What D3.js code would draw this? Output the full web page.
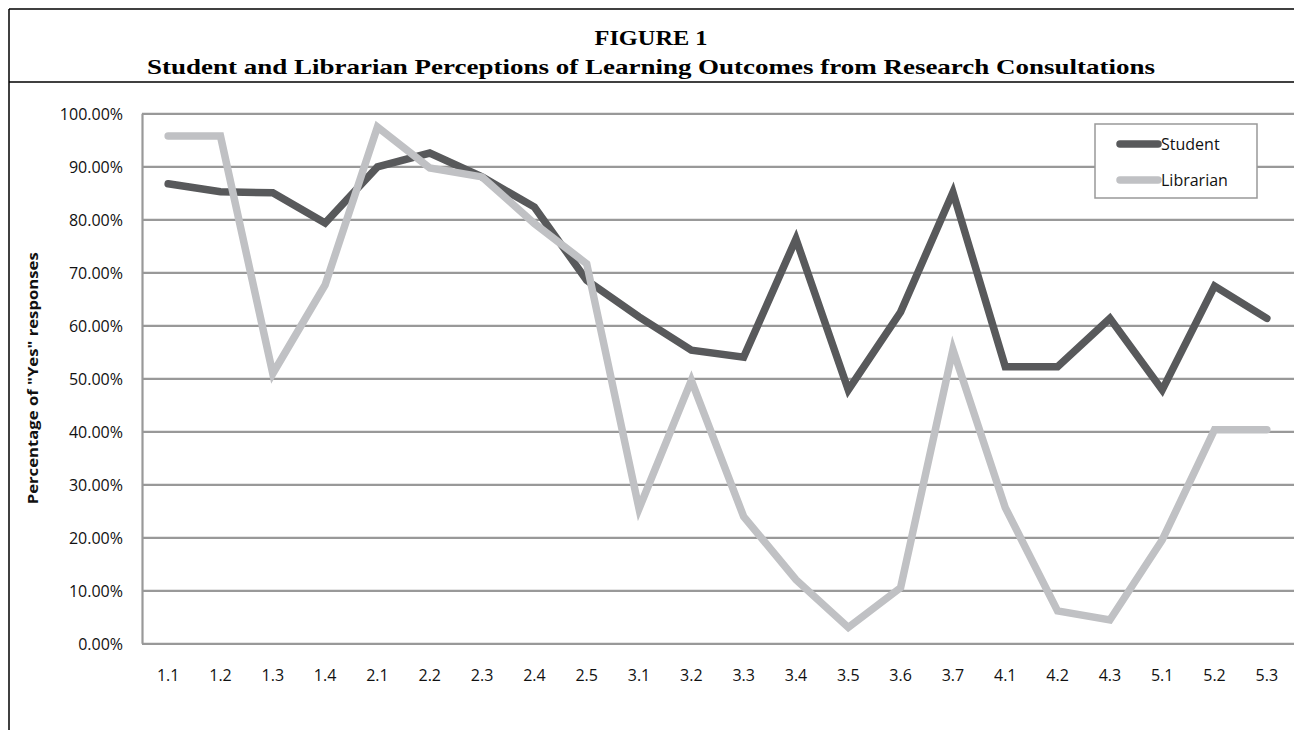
<!DOCTYPE html>
<html>
<head>
<meta charset="utf-8">
<script src="https://cdn.jsdelivr.net/npm/d3@7"></script>
<style>
  html, body { margin: 0; padding: 0; background: #fff; }
  svg { display: block; }
</style>
</head>
<body>
<svg id="chart" width="1294" height="730"></svg>
<script>
const categories = ["1.1","1.2","1.3","1.4","2.1","2.2","2.3","2.4","2.5","3.1","3.2","3.3","3.4","3.5","3.6","3.7","4.1","4.2","4.3","5.1","5.2","5.3"];
const studentValues = [86.7,85.2,85.0,79.3,89.9,92.5,88.0,82.3,68.5,61.6,55.3,54.0,76.3,47.8,62.5,85.1,52.2,52.2,61.3,47.8,67.4,61.3];
const librarianValues = [95.7,95.7,50.9,67.6,97.4,89.7,88.0,79.2,71.6,25.4,49.6,23.9,12.0,3.0,10.5,55.4,25.6,6.1,4.4,19.5,40.3,40.3];
const yTicks = [0,10,20,30,40,50,60,70,80,90,100];
const seriesNames = ["Student","Librarian"];
const seriesColors = ["#58595b","#c0c1c4"];

(function () {
const svg = d3.select("#chart");
const sans = "'Open Sans', 'Liberation Sans', Arial, sans-serif";

// Frame
svg.append("line").attr("x1",9).attr("x2",1294).attr("y1",9).attr("y2",9).attr("stroke","#000").attr("stroke-width",1.5);
svg.append("line").attr("x1",9).attr("x2",9).attr("y1",9).attr("y2",730).attr("stroke","#000").attr("stroke-width",1.5);
svg.append("line").attr("x1",9).attr("x2",1294).attr("y1",82).attr("y2",82).attr("stroke","#000").attr("stroke-width",1.5);

// Titles
svg.append("text").attr("x",651).attr("y",45).attr("text-anchor","middle")
  .style("font-family","'Liberation Serif', serif").style("font-weight","bold").style("font-size","22px")
  .attr("textLength",113).attr("lengthAdjust","spacingAndGlyphs")
  .text("FIGURE 1");
svg.append("text").attr("x",651).attr("y",74).attr("text-anchor","middle")
  .style("font-family","'Liberation Serif', serif").style("font-weight","bold").style("font-size","22px")
  .attr("textLength",1008).attr("lengthAdjust","spacingAndGlyphs")
  .text("Student and Librarian Perceptions of Learning Outcomes from Research Consultations");

const pLeft = 142, pRight = 1293, pTop = 113.3, pBottom = 643.3;
const x = d3.scaleBand().domain(categories).range([pLeft, pRight]);
const y = d3.scaleLinear().domain([0,100]).range([pBottom, pTop]);

// Gridlines
const grid = svg.append("g")
  .attr("transform", `translate(${pLeft},0)`)
  .call(d3.axisLeft(y).tickValues(yTicks).tickSize(-(1294-pLeft)).tickFormat(""));
grid.select(".domain").remove();
grid.selectAll("line").attr("stroke","#999999").attr("stroke-width",2.2);

// Y axis labels
const yAxis = svg.append("g")
  .attr("transform", `translate(${pLeft},0)`)
  .call(d3.axisLeft(y).tickValues(yTicks).tickSize(0).tickPadding(19).tickFormat(d => d.toFixed(2) + "%"));
yAxis.select(".domain").attr("stroke","#999999").attr("stroke-width",2.2);
yAxis.selectAll("text").style("font-family",sans).style("font-size","16px").attr("fill","#111").attr("dy","0.36em");

// X axis labels
const xAxis = svg.append("g")
  .attr("transform", `translate(0,${pBottom})`)
  .call(d3.axisBottom(x).tickSize(0).tickPadding(26));
xAxis.select(".domain").remove();
xAxis.selectAll("text").style("font-family",sans).style("font-size","16px").attr("fill","#111");

// Y axis title
svg.append("text")
  .attr("transform", `translate(38,${(pTop+pBottom)/2}) rotate(-90)`)
  .attr("text-anchor","middle")
  .style("font-family",sans).style("font-weight","bold").style("font-size","15px")
  .attr("textLength",252).attr("lengthAdjust","spacingAndGlyphs")
  .attr("fill","#111")
  .text('Percentage of "Yes" responses');

// Lines
const line = d3.line().x((d,i) => x(categories[i]) + x.bandwidth()/2).y(d => y(d));
[studentValues, librarianValues].forEach((vals, k) => {
  svg.append("path").datum(vals)
    .attr("d", line)
    .attr("fill","none")
    .attr("stroke", seriesColors[k])
    .attr("stroke-width",7.5)
    .attr("stroke-linejoin","miter")
    .attr("stroke-linecap","round");
});

// Legend
const lg = svg.append("g");
lg.append("rect").attr("x",1095).attr("y",124).attr("width",162).attr("height",74)
  .attr("fill","#fff").attr("stroke","#999999").attr("stroke-width",1.5);
seriesNames.forEach((name, i) => {
  const yy = 144 + i*36;
  lg.append("line").attr("x1",1120).attr("x2",1158).attr("y1",yy).attr("y2",yy)
    .attr("stroke",seriesColors[i]).attr("stroke-width",7.5).attr("stroke-linecap","round");
  lg.append("text").attr("x",1161).attr("y",yy+6)
    .style("font-family",sans).style("font-size","16px").attr("fill","#111")
    .text(name);
});
})();
</script>
</body>
</html>
